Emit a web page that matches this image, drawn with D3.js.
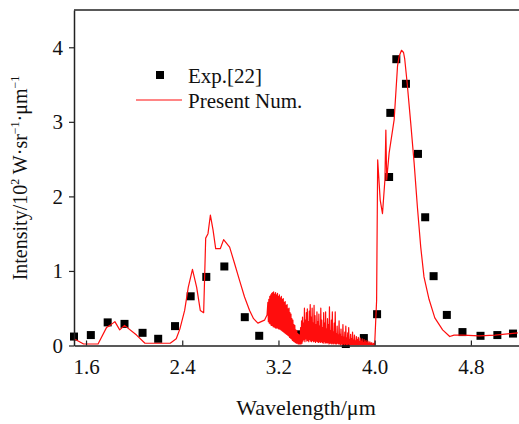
<!DOCTYPE html>
<html lang="en">
<head>
<meta charset="utf-8">
<title>Intensity spectrum</title>
<script src="https://d3js.org/d3.v7.min.js"></script>
<style>
  body { margin: 0; background: #fff; }
  svg text { font-family: "Liberation Serif", "Times New Roman", serif; fill: #111; }
</style>
</head>
<body>
<div id="chart"></div>
<script>
// Experimental points (Exp.[22])
const expWl  = [1.50, 1.64, 1.78, 1.92, 2.07, 2.20, 2.34, 2.47, 2.60, 2.75, 2.92, 3.04,
                3.35, 3.76, 3.91, 4.02, 4.12, 4.13, 4.18, 4.26, 4.36, 4.42, 4.49, 4.60,
                4.73, 4.88, 5.02, 5.15];
const expVal = [0.12, 0.14, 0.31, 0.29, 0.17, 0.09, 0.26, 0.66, 0.92, 1.06, 0.38, 0.13,
                0.15, 0.02, 0.10, 0.42, 2.26, 3.12, 3.84, 3.51, 2.57, 1.72, 0.93, 0.41,
                0.18, 0.13, 0.14, 0.16];

// Present numerical result, smooth part below 3.11 um
const numWlA  = [1.50, 1.58, 1.70, 1.77, 1.80, 1.84, 1.88, 1.92, 2.02, 2.09, 2.30, 2.35,
                 2.38, 2.42, 2.45, 2.485, 2.52, 2.55, 2.578, 2.595, 2.614, 2.634, 2.656,
                 2.678, 2.717, 2.744, 2.794, 2.835, 2.877, 2.918, 2.96, 2.993, 3.029,
                 3.084, 3.105];
const numValA = [0.09, 0.02, 0.02, 0.24, 0.27, 0.32, 0.21, 0.27, 0.14, 0.03, 0.03, 0.09,
                 0.22, 0.47, 0.78, 1.02, 0.78, 0.47, 0.44, 1.44, 1.50, 1.75, 1.55,
                 1.30, 1.30, 1.42, 1.32, 1.10, 0.87, 0.65, 0.47, 0.36, 0.30,
                 0.34, 0.41];

// first oscillating band, 3.11 - 3.40 um
const numWlB  = [3.112, 3.116, 3.120, 3.124, 3.128, 3.132, 3.136, 3.140, 3.144, 3.148,
                 3.152, 3.156, 3.160, 3.164, 3.168, 3.172, 3.176, 3.180, 3.184, 3.188,
                 3.192, 3.196, 3.200, 3.204, 3.208, 3.212, 3.216, 3.220, 3.224, 3.228,
                 3.232, 3.236, 3.240, 3.244, 3.248, 3.252, 3.256, 3.260, 3.264, 3.268,
                 3.272, 3.276, 3.280, 3.284, 3.288, 3.292, 3.296, 3.300, 3.304, 3.308,
                 3.312, 3.316, 3.320, 3.324, 3.328, 3.332, 3.336, 3.340, 3.344, 3.348,
                 3.352, 3.356, 3.360, 3.364, 3.368, 3.372, 3.376, 3.380, 3.384, 3.388,
                 3.392, 3.396];
const numValB = [0.58, 0.32, 0.62, 0.30, 0.66, 0.29, 0.68, 0.27, 0.70, 0.27,
                 0.71, 0.25, 0.72, 0.25, 0.69, 0.24, 0.71, 0.23, 0.68, 0.24,
                 0.70, 0.23, 0.66, 0.22, 0.68, 0.22, 0.64, 0.21, 0.66, 0.20,
                 0.62, 0.19, 0.63, 0.18, 0.58, 0.17, 0.59, 0.16, 0.54, 0.15,
                 0.55, 0.14, 0.49, 0.13, 0.50, 0.11, 0.44, 0.10, 0.42, 0.09,
                 0.36, 0.07, 0.34, 0.06, 0.28, 0.05, 0.27, 0.04, 0.21, 0.03,
                 0.20, 0.03, 0.16, 0.02, 0.15, 0.02, 0.14, 0.02, 0.24, 0.02,
                 0.33, 0.03];

// second oscillating band, 3.40 - 4.00 um
const numWlC  = [3.400, 3.404, 3.408, 3.412, 3.416, 3.420, 3.424, 3.428, 3.432, 3.436,
                 3.440, 3.444, 3.448, 3.452, 3.456, 3.460, 3.464, 3.468, 3.472, 3.476,
                 3.480, 3.484, 3.488, 3.492, 3.496, 3.500, 3.504, 3.508, 3.512, 3.516,
                 3.520, 3.524, 3.528, 3.532, 3.536, 3.540, 3.544, 3.548, 3.552, 3.556,
                 3.560, 3.564, 3.568, 3.572, 3.576, 3.580, 3.584, 3.588, 3.592, 3.596,
                 3.600, 3.604, 3.608, 3.612, 3.616, 3.620, 3.624, 3.628, 3.632, 3.636,
                 3.640, 3.644, 3.648, 3.652, 3.656, 3.660, 3.664, 3.668, 3.672, 3.676,
                 3.680, 3.684, 3.688, 3.692, 3.696, 3.700, 3.704, 3.708, 3.712, 3.716,
                 3.720, 3.724, 3.728, 3.732, 3.736, 3.740, 3.744, 3.748, 3.752, 3.756,
                 3.760, 3.764, 3.768, 3.772, 3.776, 3.780, 3.784, 3.788, 3.792, 3.796,
                 3.800, 3.804, 3.808, 3.812, 3.816, 3.820, 3.824, 3.828, 3.832, 3.836,
                 3.840, 3.844, 3.848, 3.852, 3.856, 3.860, 3.864, 3.868, 3.872, 3.876,
                 3.880, 3.884, 3.888, 3.892, 3.896, 3.900, 3.904, 3.908, 3.912, 3.916,
                 3.920, 3.924, 3.928, 3.932, 3.936, 3.940, 3.944, 3.948, 3.952, 3.956,
                 3.960, 3.964, 3.968, 3.972, 3.976, 3.980, 3.984, 3.988, 3.992, 3.996,
                 4.000];
const numValC = [0.38, 0.06, 0.30, 0.08, 0.50, 0.05, 0.34, 0.09, 0.44, 0.06,
                 0.49, 0.07, 0.32, 0.05, 0.46, 0.08, 0.55, 0.06, 0.38, 0.05,
                 0.50, 0.07, 0.30, 0.05, 0.54, 0.06, 0.40, 0.04, 0.28, 0.06,
                 0.45, 0.05, 0.32, 0.04, 0.42, 0.05, 0.26, 0.04, 0.50, 0.05,
                 0.34, 0.04, 0.24, 0.03, 0.44, 0.05, 0.30, 0.03, 0.45, 0.04,
                 0.22, 0.03, 0.36, 0.04, 0.28, 0.02, 0.52, 0.03, 0.20, 0.03,
                 0.34, 0.02, 0.45, 0.03, 0.18, 0.02, 0.30, 0.03, 0.45, 0.02,
                 0.16, 0.02, 0.26, 0.03, 0.14, 0.02, 0.33, 0.02, 0.15, 0.01,
                 0.22, 0.02, 0.12, 0.01, 0.28, 0.02, 0.11, 0.01, 0.18, 0.02,
                 0.26, 0.01, 0.10, 0.01, 0.17, 0.02, 0.24, 0.01, 0.08, 0.01,
                 0.15, 0.01, 0.09, 0.01, 0.18, 0.01, 0.07, 0.01, 0.14, 0.01,
                 0.06, 0.01, 0.12, 0.01, 0.08, 0.01, 0.11, 0.01, 0.05, 0.01,
                 0.10, 0.01, 0.06, 0.01, 0.09, 0.01, 0.04, 0.01, 0.08, 0.01,
                 0.05, 0.01, 0.07, 0.01, 0.04, 0.01, 0.06, 0.01, 0.03, 0.01,
                 0.05, 0.01, 0.03, 0.01, 0.04, 0.01, 0.02, 0.01, 0.03, 0.01,
                 0.01];

// main peak and tail above 4.0 um
const numWlD  = [4.016, 4.025, 4.046, 4.065, 4.085, 4.093, 4.100, 4.120, 4.162, 4.190,
                 4.204, 4.223, 4.240, 4.250, 4.270, 4.300, 4.328, 4.355, 4.383, 4.410,
                 4.452, 4.500, 4.565, 4.624, 4.660, 4.730, 4.870, 5.000, 5.190];
const numValD = [0.60, 2.49, 1.95, 1.77, 2.22, 2.89, 2.22, 2.58, 3.03, 3.75,
                 3.88, 3.96, 3.93, 3.84, 3.52, 2.98, 2.45, 1.86, 1.32, 0.92,
                 0.62, 0.37, 0.21, 0.12, 0.14, 0.14, 0.13, 0.14, 0.17];

const xTicks = [1.6, 2.4, 3.2, 4.0, 4.8];
const yTicks = [0, 1, 2, 3, 4];

var W = 519, H = 424;
var margin = { top: 10, right: 0, bottom: 78.5, left: 74 };

const svg = d3.select("#chart")
  .append("svg")
  .attr("width", W)
  .attr("height", H);

// Scales
const x = d3.scaleLinear()
  .domain([1.5, 5.2])
  .range([margin.left, W - margin.right]);

const y = d3.scaleLinear()
  .domain([0, 4.5])
  .range([H - margin.bottom, margin.top]);

// Build the curve from the pieces
var numData = [];
[[numWlA, numValA], [numWlB, numValB], [numWlC, numValC], [numWlD, numValD]]
  .forEach(function (p) {
    p[0].forEach((w, i) => numData.push([w, p[1][i]]));
  });

const expData = expWl.map((w, i) => [w, expVal[i]]);

// Experimental squares
svg.append("g")
  .selectAll("rect")
  .data(expData)
  .join("rect")
  .attr("x", d => x(d[0]) - 4)
  .attr("y", d => y(d[1]) - 4)
  .attr("width", 8)
  .attr("height", 8)
  .attr("fill", "#000");

// Numerical line
const line = d3.line()
  .x(d => x(d[0]))
  .y(d => y(d[1]));

svg.append("path")
  .datum(numData)
  .attr("d", line)
  .attr("fill", "none")
  .attr("stroke", "#ff0d0d")
  .attr("stroke-width", 1.2)
  .attr("stroke-linejoin", "round");

// Axes
svg.append("g")
  .attr("transform", `translate(0,${y(0)})`)
  .call(d3.axisBottom(x).tickValues(xTicks).tickFormat(d3.format(".1f"))
        .tickSize(-5).tickSizeOuter(0).tickPadding(14));

svg.append("g")
  .attr("transform", `translate(${margin.left},0)`)
  .call(d3.axisLeft(y).tickValues(yTicks).tickFormat(d3.format("d"))
        .tickSize(5).tickSizeOuter(0).tickPadding(6));

svg.selectAll(".domain").attr("stroke", "#222").attr("stroke-width", 1.5);
svg.selectAll(".tick line").attr("stroke", "#222").attr("stroke-width", 1.2);
svg.selectAll(".tick text")
  .attr("font-size", 21)
  .attr("fill", "#111");

// top border
svg.append("line")
  .attr("x1", margin.left).attr("x2", W)
  .attr("y1", y(4.5)).attr("y2", y(4.5))
  .attr("stroke", "#222").attr("stroke-width", 1.5);

// Axis titles
svg.append("text")
  .attr("x", 306)
  .attr("y", 415)
  .attr("text-anchor", "middle")
  .attr("font-size", 22)
  .text("Wavelength/\u03bcm");

const yTitle = svg.append("text")
  .attr("transform", "translate(27,178) rotate(-90)")
  .attr("text-anchor", "middle")
  .attr("font-size", 20);
yTitle.append("tspan").text("Intensity/10");
yTitle.append("tspan").attr("font-size", 12).attr("dy", -8).text("2");
yTitle.append("tspan").attr("dy", 8).text(" W\u00b7sr");
yTitle.append("tspan").attr("font-size", 12).attr("dy", -8).text("\u22121");
yTitle.append("tspan").attr("dy", 8).text("\u00b7\u03bcm");
yTitle.append("tspan").attr("font-size", 12).attr("dy", -8).text("\u22121");

// Legend
const legend = svg.append("g");
legend.append("rect")
  .attr("x", 156).attr("y", 71)
  .attr("width", 8).attr("height", 8)
  .attr("fill", "#000");
legend.append("text")
  .attr("x", 188).attr("y", 83)
  .attr("font-size", 21)
  .text("Exp.[22]");
legend.append("line")
  .attr("x1", 136).attr("x2", 182)
  .attr("y1", 100).attr("y2", 100)
  .attr("stroke", "#ff0d0d").attr("stroke-width", 1.2);
legend.append("text")
  .attr("x", 188).attr("y", 108)
  .attr("font-size", 21)
  .text("Present Num.");
</script>
</body>
</html>
